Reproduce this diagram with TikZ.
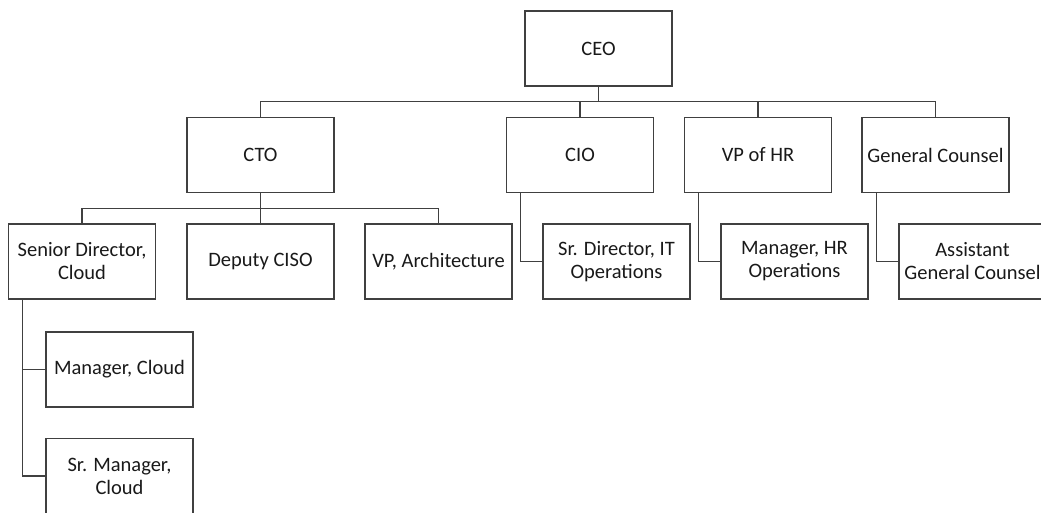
\documentclass[tikz,border=0pt]{standalone}
\usepackage{fontspec}
\setmainfont{Carlito}
\usetikzlibrary{positioning,calc}

\begin{document}
\begin{tikzpicture}[x=1pt, y=-1pt]
        \tikzset{
            role/.style={draw=black!75, line width=1.5pt, rectangle, minimum width=147pt,
                minimum height=75pt, inner xsep=2pt, align=center, text=black!90,
                font=\fontsize{20.5}{23}\selectfont},
            link/.style={draw=black!75, line width=1.4pt},
        }
        \useasboundingbox (0,0) rectangle (1041,512);

        \node[role] (ceo) at (598.5, 48.5) {CEO};
        \node[role] (cto) at (260.5, 155) {CTO};
        \node[role] (cio) at (580, 155) {CIO};
        \node[role] (vphr) at (758, 155) {VP of HR};
        \node[role] (counsel) at (935.5, 155) {General Counsel};

        \node[role] (srdircloud) at (82, 261.5) {Senior Director,\\Cloud};
        \node[role] (ciso) at (260.5, 261.5) {Deputy CISO};
        \node[role] (arch) at (438.5, 261.5) {VP, Architecture};
        \node[role] (srdirit) at (616.5, 261.5) {Sr. Director, IT\\Operations};
        \node[role] (mgrhr) at (794.5, 261.5) {Manager, HR\\Operations};
        \node[role] (asstcounsel) at (972.5, 261.5) {Assistant\\General Counsel};

        \node[role] (mgrcloud) at (119.5, 369.5) {Manager, Cloud};
        \node[role] (srmgrcloud) at (119.5, 476) {Sr. Manager,\\Cloud};

        % top level bus
        \draw[link] (ceo.south) -- ++(0,15) coordinate (ceobus);
        \foreach \n in {cto, cio, vphr, counsel}
            \draw[link] (\n.north) |- (ceobus);

        % CTO bus
        \draw[link] (cto.south) -- ++(0,15) coordinate (ctobus);
        \foreach \n in {srdircloud, ciso, arch}
            \draw[link] (\n.north) |- (ctobus);

        % side links
        \draw[link] ([xshift=15pt]cio.south west) |- (srdirit.west);
        \draw[link] ([xshift=15pt]vphr.south west) |- (mgrhr.west);
        \draw[link] ([xshift=15pt]counsel.south west) |- (asstcounsel.west);
        \draw[link] ([xshift=15pt]srdircloud.south west) |- (mgrcloud.west);
        \draw[link] ([xshift=15pt]srdircloud.south west) |- (srmgrcloud.west);
    \end{tikzpicture}
\end{document}
